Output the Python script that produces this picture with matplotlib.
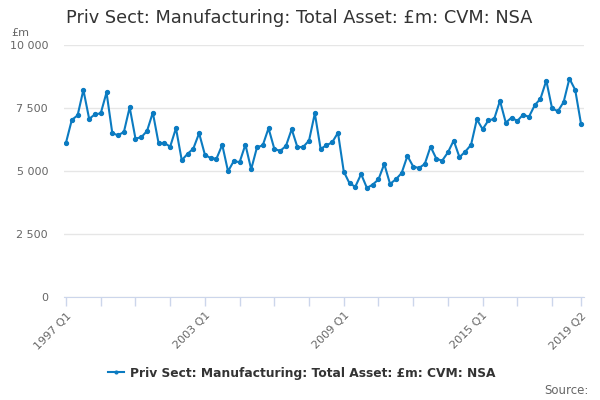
import numpy as np
import matplotlib
matplotlib.use("Agg")
import matplotlib.pyplot as plt
from matplotlib.ticker import FuncFormatter, FixedLocator

# quarterly values, 1997 Q1 .. 2019 Q2 (£m, CVM, NSA)
values = [
    6140, 7040, 7220, 8230, 7080, 7260, 7300, 8130,   # 1997-1998
    6510, 6430, 6560, 7540, 6300, 6350, 6600, 7330,   # 1999-2000
    6110, 6120, 5980, 6710, 5440, 5690, 5900, 6510,   # 2001-2002
    5660, 5520, 5500, 6050, 5000, 5410, 5360, 6060,   # 2003-2004
    5080, 5950, 6030, 6710, 5890, 5810, 6000, 6670,   # 2005-2006
    5950, 5970, 6220, 7300, 5890, 6030, 6150, 6530,   # 2007-2008
    4990, 4520, 4390, 4890, 4340, 4470, 4680, 5290,   # 2009-2010
    4500, 4680, 4930, 5610, 5190, 5130, 5290, 5980,   # 2011-2012
    5500, 5420, 5750, 6220, 5560, 5780, 6050, 7060,   # 2013-2014
    6670, 7020, 7080, 7800, 6930, 7130, 7000, 7250,   # 2015-2016
    7160, 7620, 7880, 8600, 7500, 7380, 7750, 8680,   # 2017-2018
    8230, 6890,                                       # 2019
]
quarters = [f"{1997 + i // 4} Q{i % 4 + 1}" for i in range(len(values))]
label_quarters = ["1997 Q1", "2003 Q1", "2009 Q1", "2015 Q1", "2019 Q2"]

title = "Priv Sect: Manufacturing: Total Asset: £m: CVM: NSA"
line_color = "#0b7bc1"
grey = "#666666"
axis_col = "#ccd6eb"

fig = plt.figure(figsize=(6, 4), dpi=100)
ax = fig.add_axes([64 / 600, 1 - 297.3 / 400, 520 / 600, (297.3 - 45.3) / 400])

x = np.arange(len(values))
ax.plot(x, values, color=line_color, lw=1.5, marker="o", ms=2.8, zorder=3,
        label=title)

ax.set_ylim(0, 10000)
ax.set_xlim(-0.35, len(values) - 1 + 0.52)
ax.set_yticks([0, 2500, 5000, 7500, 10000])
ax.yaxis.set_major_formatter(FuncFormatter(lambda v, p: f"{int(v):,}".replace(",", " ")))
ax.grid(axis="y", color="#e6e6e6", lw=1)
ax.set_axisbelow(True)

# ticks every 6 quarters, labels only at selected quarters
tick_pos = list(range(0, len(values), 6)) + [len(values) - 1]
ax.xaxis.set_major_locator(FixedLocator(tick_pos))
ax.set_xticklabels([quarters[i] if quarters[i] in label_quarters else "" for i in tick_pos],
                   rotation=45, ha="right", rotation_mode="anchor")

for s in ["top", "right", "left"]:
    ax.spines[s].set_visible(False)
ax.spines["bottom"].set_color(axis_col)
ax.tick_params(axis="x", colors=axis_col, length=6.5, width=1, labelcolor=grey,
               labelsize=8, pad=3)
ax.tick_params(axis="y", length=0, labelcolor=grey, labelsize=8, pad=11.5)

fig.text(66 / 600, 1 - 18 / 400, title, fontsize=12.75, color="#333333", va="center")
fig.text(11 / 600, 1 - 33 / 400, "£m", fontsize=8, color=grey, va="center")
fig.text(589 / 600, 1 - 390 / 400, "Source:", fontsize=8.5, color=grey,
         va="center", ha="right")

leg = fig.legend(loc="center", bbox_to_anchor=(302 / 600, 1 - 373 / 400), frameon=False,
                 prop={"weight": "bold", "size": 8.8}, handlelength=1.3, handletextpad=0.5,
                 markerscale=0.7)
for t in leg.get_texts():
    t.set_color("#333333")

fig.savefig("out.png", dpi=100)
